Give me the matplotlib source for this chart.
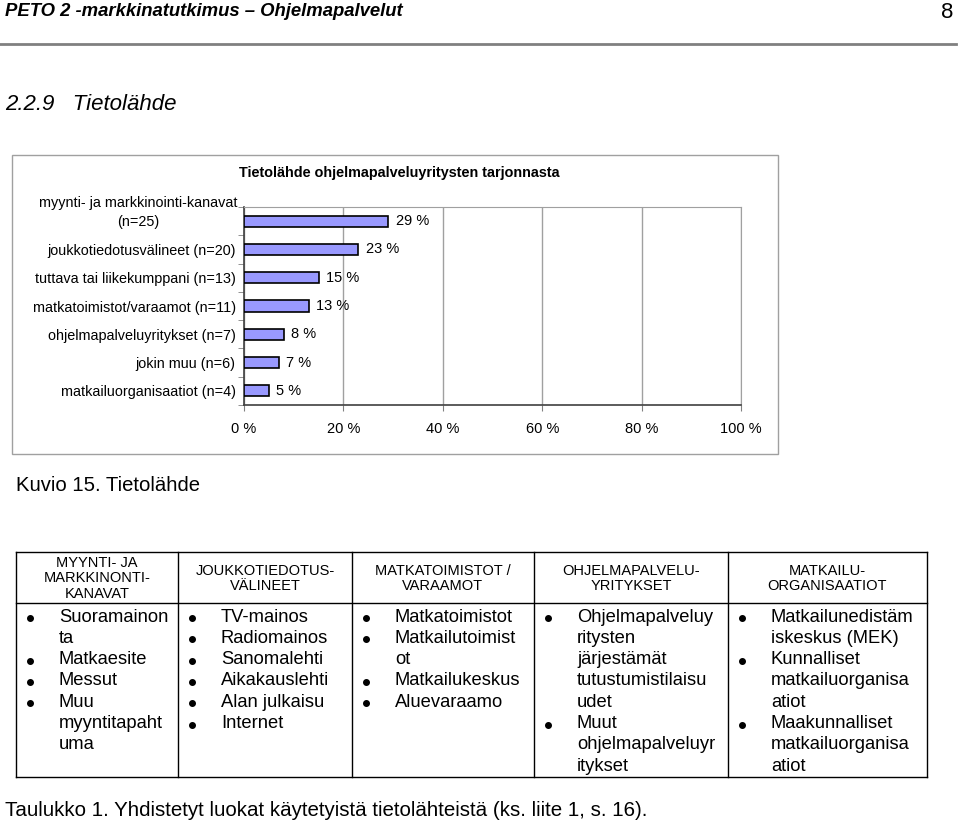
import matplotlib.pyplot as plt
from matplotlib.patches import Rectangle
from matplotlib.lines import Line2D
import numpy as np

W, H = 960, 822

# chart data
categories = ['myynti- ja markkinointi-kanavat\n(n=25)', 'joukkotiedotusvälineet (n=20)',
              'tuttava tai liikekumppani (n=13)', 'matkatoimistot/varaamot (n=11)',
              'ohjelmapalveluyritykset (n=7)', 'jokin muu (n=6)', 'matkailuorganisaatiot (n=4)']
values = [29, 23, 15, 13, 8, 7, 5]
xticks = [0, 20, 40, 60, 80, 100]

# table data
headers = ['MYYNTI- JA\nMARKKINONTI-\nKANAVAT', 'JOUKKOTIEDOTUS-\nVÄLINEET',
           'MATKATOIMISTOT /\nVARAAMOT', 'OHJELMAPALVELU-\nYRITYKSET',
           'MATKAILU-\nORGANISAATIOT']
col_lines = [
    [('Suoramainon', 1), ('ta', 0), ('Matkaesite', 1), ('Messut', 1), ('Muu', 1),
     ('myyntitapaht', 0), ('uma', 0)],
    [('TV-mainos', 1), ('Radiomainos', 1), ('Sanomalehti', 1), ('Aikakauslehti', 1),
     ('Alan julkaisu', 1), ('Internet', 1)],
    [('Matkatoimistot', 1), ('Matkailutoimist', 1), ('ot', 0), ('Matkailukeskus', 1),
     ('Aluevaraamo', 1)],
    [('Ohjelmapalveluy', 1), ('ritysten', 0), ('järjestämät', 0), ('tutustumistilaisu', 0),
     ('udet', 0), ('Muut', 1), ('ohjelmapalveluyr', 0), ('itykset', 0)],
    [('Matkailunedistäm', 1), ('iskeskus (MEK)', 0), ('Kunnalliset', 1),
     ('matkailuorganisa', 0), ('atiot', 0), ('Maakunnalliset', 1), ('matkailuorganisa', 0),
     ('atiot', 0)],
]
col_edges = [16, 178, 352, 534, 728, 927]

plt.rcParams['font.family'] = ['Liberation Sans', 'DejaVu Sans']

fig = plt.figure(figsize=(W / 100, H / 100), dpi=100)


def fx(x):
    return x / W


def fy(y):
    return 1 - y / H


# page header
fig.text(fx(5), fy(11), 'PETO 2 -markkinatutkimus – Ohjelmapalvelut',
         fontsize=13.3, fontweight='bold', style='italic', va='center', ha='left')
fig.text(fx(953), fy(12), '8', fontsize=16, va='center', ha='right')
fig.add_artist(Line2D([fx(0), fx(956)], [fy(44), fy(44)], color='#808080', lw=2))
fig.text(fx(5), fy(105), '2.2.9   Tietolähde', fontsize=16, style='italic',
         va='center', ha='left')

# chart frame
fig.add_artist(Rectangle((fx(12), fy(454)), fx(778) - fx(12), fy(155) - fy(454),
                         fill=False, edgecolor='#a0a0a0', lw=1))
fig.text(fx(399), fy(173), 'Tietolähde ohjelmapalveluyritysten tarjonnasta',
         fontsize=10.4, fontweight='bold', ha='center', va='center')

ax = fig.add_axes([fx(244), fy(405), fx(741) - fx(244), fy(207) - fy(405)])
y = np.arange(len(values))
ax.barh(y, values, height=0.39, color='#9999ff', edgecolor='black', lw=1.2, zorder=3)
for yi, v in zip(y, values):
    ax.text(v + 1.5, yi, f'{v} %', va='center', ha='left', fontsize=10.5, zorder=4)
ax.set_xlim(0, 100)
ax.set_ylim(len(values) - 0.5, -0.5)
ax.set_xticks(xticks)
ax.set_xticklabels([f'{t} %' for t in xticks], fontsize=10.5)
ax.set_yticks(y)
# first (two-line) label sits a bit higher, as in the original
ax.set_yticklabels([''] + categories[1:], fontsize=10.4)
ax.annotate(categories[0], xy=(0, 0), xycoords='data', xytext=(-5, 6),
            textcoords='offset points', ha='right', va='center', multialignment='center',
            fontsize=10.4, linespacing=1.45, annotation_clip=False)
ax.set_yticks(np.arange(len(values) + 1) - 0.5, minor=True)
ax.tick_params(axis='y', which='major', length=0, pad=6)
ax.tick_params(axis='y', which='minor', length=4, direction='out', color='#808080')
ax.tick_params(axis='x', length=4, direction='out', color='#808080', pad=8)
ax.grid(axis='x', color='#a0a0a0', lw=1, zorder=0)
for s in ['top', 'right']:
    ax.spines[s].set_color('#a0a0a0')
for s in ['left', 'bottom']:
    ax.spines[s].set_color('#404040')
    ax.spines[s].set_linewidth(1.2)

fig.text(fx(16), fy(485), 'Kuvio 15. Tietolähde', fontsize=14.6, va='center', ha='left')

# table
top, mid, bot = 552, 603, 777
for xe in col_edges:
    fig.add_artist(Line2D([fx(xe), fx(xe)], [fy(top), fy(bot)], color='black', lw=1))
for ye in (top, mid, bot):
    fig.add_artist(Line2D([fx(col_edges[0]), fx(col_edges[-1])], [fy(ye), fy(ye)],
                          color='black', lw=1))
for i, head in enumerate(headers):
    cx = (col_edges[i] + col_edges[i + 1]) / 2
    fig.text(fx(cx), fy((top + mid) / 2 + 1), head, fontsize=10.5, ha='center', va='center',
             multialignment='center', linespacing=1.12)
    for j, (txt, bullet) in enumerate(col_lines[i]):
        yy = 617 + j * 21.3
        if bullet:
            fig.add_artist(Line2D([fx(col_edges[i] + 14)], [fy(yy + 1)], marker='o',
                                  markersize=4, color='black', lw=0))
        fig.text(fx(col_edges[i] + 43), fy(yy), txt, fontsize=13.2, ha='left', va='center')

fig.text(fx(5), fy(810), 'Taulukko 1. Yhdistetyt luokat käytetyistä tietolähteistä (ks. liite 1, s. 16).',
         fontsize=14.8, ha='left', va='center')

fig.savefig('out.png', dpi=100)
